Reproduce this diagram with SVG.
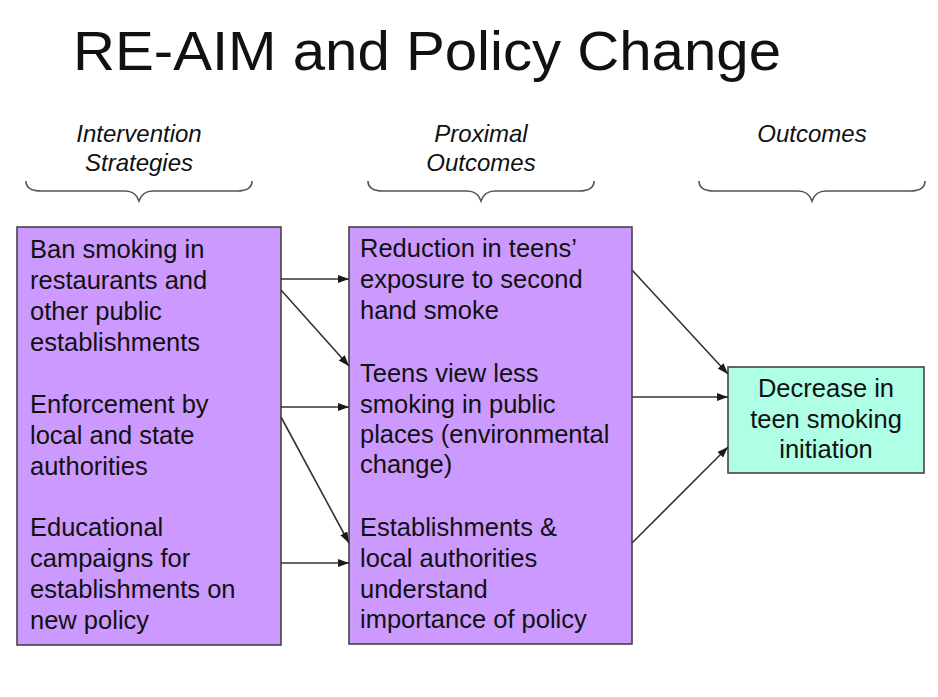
<svg xmlns="http://www.w3.org/2000/svg" width="938" height="697" viewBox="0 0 938 697">
  <defs>
    <marker id="ah" markerUnits="userSpaceOnUse" markerWidth="12" markerHeight="8" refX="11" refY="4" orient="auto">
      <path d="M0,0 L11,4 L0,8 z" fill="#1a1a1a"/>
    </marker>
    <style>
      .t { font-family: "Liberation Sans", Arial, sans-serif; fill: #111; }
      .title { font-size: 56px; }
      .body { font-size: 25.5px; }
      .hdr { font-size: 24px; font-style: italic; text-anchor: middle; }
      .brace { fill: none; stroke: #555; stroke-width: 1.6; }
      .box { stroke: #444; stroke-width: 1.6; }
      .purple { fill: #CC99FF; }
      .mint { fill: #AEFFE6; }
      .conn line { stroke: #333; stroke-width: 1.6; marker-end: url(#ah); }
    </style>
  </defs>
  <rect width="938" height="697" fill="#ffffff"/>

  <text id="title" class="t title" x="73" y="70" textLength="708" lengthAdjust="spacingAndGlyphs">RE-AIM and Policy Change</text>

  <g id="header-intervention">
    <text class="t hdr" x="139" y="142">Intervention</text>
    <text class="t hdr" x="139" y="171">Strategies</text>
    <path class="brace" d="M26,181 C26,188 31,191 41,191 L125,191 C133,191 137,195 139,201 C141,195 145,191 153,191 L237,191 C247,191 252,188 252,181"/>
  </g>
  <g id="header-proximal">
    <text class="t hdr" x="481" y="142">Proximal</text>
    <text class="t hdr" x="481" y="171">Outcomes</text>
    <path class="brace" d="M368,181 C368,188 373,191 383,191 L467,191 C475,191 479,195 481,201 C483,195 487,191 495,191 L579,191 C589,191 594,188 594,181"/>
  </g>
  <g id="header-outcomes">
    <text class="t hdr" x="812" y="142">Outcomes</text>
    <path class="brace" d="M699,181 C699,188 704,191 714,191 L798,191 C806,191 810,195 812,201 C814,195 818,191 826,191 L910,191 C920,191 925,188 925,181"/>
  </g>

  <g id="intervention-strategies">
    <rect class="box purple" x="17" y="227" width="264" height="418"/>
    <text class="t body" x="30" y="258">Ban smoking in</text>
    <text class="t body" x="30" y="289">restaurants and</text>
    <text class="t body" x="30" y="320">other public</text>
    <text class="t body" x="30" y="351">establishments</text>
    <text class="t body" x="30" y="413">Enforcement by</text>
    <text class="t body" x="30" y="444">local and state</text>
    <text class="t body" x="30" y="475">authorities</text>
    <text class="t body" x="30" y="536">Educational</text>
    <text class="t body" x="30" y="567">campaigns for</text>
    <text class="t body" x="30" y="598">establishments on</text>
    <text class="t body" x="30" y="629">new policy</text>
  </g>

  <g id="proximal-outcomes">
    <rect class="box purple" x="349" y="227" width="283" height="417"/>
    <text class="t body" x="360" y="257">Reduction in teens’</text>
    <text class="t body" x="360" y="288">exposure to second</text>
    <text class="t body" x="360" y="319">hand smoke</text>
    <text class="t body" x="360" y="382">Teens view less</text>
    <text class="t body" x="360" y="413">smoking in public</text>
    <text class="t body" x="360" y="443">places (environmental</text>
    <text class="t body" x="360" y="473">change)</text>
    <text class="t body" x="360" y="536">Establishments &amp;</text>
    <text class="t body" x="360" y="567">local authorities</text>
    <text class="t body" x="360" y="598">understand</text>
    <text class="t body" x="360" y="628">importance of policy</text>
  </g>

  <g id="outcome">
    <rect class="box mint" x="728" y="367" width="196" height="106"/>
    <text class="t body" x="826" y="397" text-anchor="middle">Decrease in</text>
    <text class="t body" x="826" y="428" text-anchor="middle">teen smoking</text>
    <text class="t body" x="826" y="458" text-anchor="middle">initiation</text>
  </g>

  <g id="connectors" class="conn">
    <line x1="281" y1="279" x2="349" y2="279"/>
    <line x1="281" y1="290" x2="349" y2="366"/>
    <line x1="281" y1="407" x2="349" y2="407"/>
    <line x1="281" y1="417" x2="349" y2="543"/>
    <line x1="281" y1="563" x2="349" y2="563"/>
    <line x1="632" y1="270" x2="728" y2="374"/>
    <line x1="632" y1="397" x2="728" y2="397"/>
    <line x1="632" y1="543" x2="728" y2="447"/>
  </g>
</svg>
